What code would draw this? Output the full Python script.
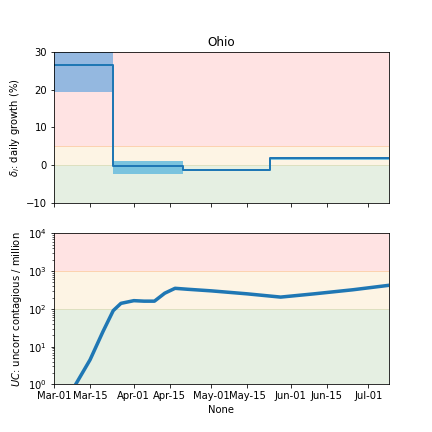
import numpy as np, pandas as pd, matplotlib
matplotlib.use("Agg")
import matplotlib.pyplot as plt, matplotlib.dates as mdates, seaborn as sns

seg_start = pd.to_datetime(["2020-03-01","2020-03-24","2020-04-20","2020-05-24"])
seg_end = pd.to_datetime(["2020-03-24","2020-04-20","2020-05-24","2020-07-09"])
delta = [26.5, -0.3, -1.3, 1.8]
d_lo = [19.5, -2.2, -1.6, 1.4]
d_hi = [30.5, 1.2, -0.9, 2.2]
band_colors = ["#94b8e0", "#7ac3de", "#7ac3de", "#7ac3de"]

uc_dates = pd.to_datetime(["2020-03-09","2020-03-15","2020-03-20","2020-03-24","2020-03-27","2020-04-01","2020-04-05","2020-04-09","2020-04-13","2020-04-17","2020-04-22","2020-05-01","2020-05-15","2020-05-28","2020-06-10","2020-06-25","2020-07-09"])
uc_vals = [0.9, 4.5, 25, 90, 140, 165, 160, 160, 260, 350, 330, 300, 250, 205, 250, 320, 420]

fig, (ax1, ax2) = plt.subplots(2, 1, figsize=(6, 6), dpi=72, sharex=True)
xmin, xmax = pd.Timestamp("2020-03-01"), pd.Timestamp("2020-07-09")

ax1.axhspan(5, 30, color="#ffe3e3", zorder=0)
ax1.axhspan(0, 5, color="#fdf4e4", zorder=0)
ax1.axhspan(-10, 0, color="#e5efe2", zorder=0)
ax1.axhline(5, color="#fcd2b0", lw=1, zorder=0)
ax1.axhline(0, color="#dde0c0", lw=1, zorder=0)
for s, e, lo, hi, c in zip(seg_start, seg_end, d_lo, d_hi, band_colors):
    ax1.fill_between([s, e], lo, hi, color=c, zorder=1, lw=0)
xs, ys = [], []
for s, e, d in zip(seg_start, seg_end, delta):
    xs += [s, e]; ys += [d, d]
sns.lineplot(x=xs, y=ys, ax=ax1, color="#1f77b4", lw=2, sort=False, estimator=None)
ax1.set_ylim(-10, 30)
ax1.set_yticks([-10, 0, 10, 20, 30])
ax1.set_ylabel(r"$\delta_i$: daily growth (%)")
ax1.set_title("Ohio")

ax2.axhspan(1000, 1e4, color="#ffe3e3", zorder=0)
ax2.axhspan(100, 1000, color="#fdf4e4", zorder=0)
ax2.axhspan(1, 100, color="#e5efe2", zorder=0)
ax2.axhline(1000, color="#fcd2b0", lw=1, zorder=0)
ax2.axhline(100, color="#dde0c0", lw=1, zorder=0)
sns.lineplot(x=uc_dates, y=uc_vals, ax=ax2, color="#1f77b4", lw=3.5)
ax2.set_yscale("log")
ax2.set_ylim(1, 1e4)
ax2.set_ylabel(r"$UC$: uncorr contagious / million")
ax2.set_xlim(xmin, xmax)
ax2.xaxis.set_major_locator(mdates.DayLocator(bymonthday=[1, 15]))
ax2.xaxis.set_major_formatter(mdates.DateFormatter("%b-%d"))
for a in (ax1, ax2):
    a.grid(False)
fig.subplots_adjust(left=0.125, right=0.9, top=0.88, bottom=0.11, hspace=0.2)
fig.savefig("out.png", dpi=72)
